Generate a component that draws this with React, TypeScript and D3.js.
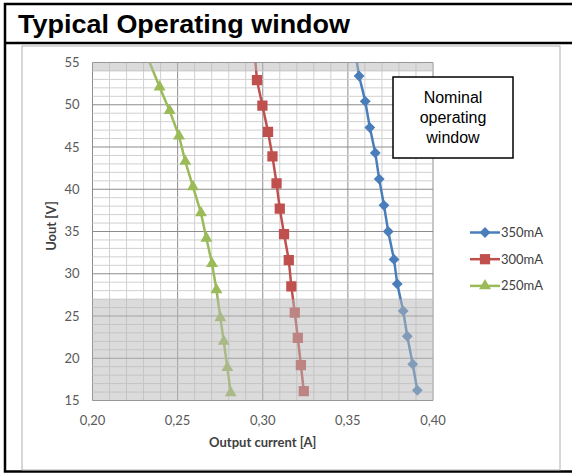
import * as d3 from 'd3'

// 350mA series
const v350 = [56, 53.4, 50.4, 47.3, 44.3, 41.2, 38.1, 35.0, 31.7, 28.8, 25.6, 22.6, 19.3, 16.2]
const i350 = [0.3545, 0.3566, 0.3602, 0.3629, 0.3661, 0.3684, 0.3712, 0.3737, 0.3771, 0.379, 0.3825, 0.3849, 0.3881, 0.3908]
// 300mA series
const v300 = [56, 52.9, 49.9, 46.8, 43.9, 40.7, 37.7, 34.7, 31.6, 28.5, 25.4, 22.4, 19.2, 16.1]
const i300 = [0.2953, 0.2966, 0.2998, 0.3031, 0.3057, 0.3081, 0.31, 0.3125, 0.3153, 0.3168, 0.3188, 0.3206, 0.3224, 0.3241]
// 250mA series
const v250 = [56, 52.1, 49.3, 46.3, 43.3, 40.3, 37.2, 34.2, 31.2, 28.1, 24.8, 22.0, 18.9, 15.9]
const i250 = [0.2316, 0.2394, 0.2453, 0.2508, 0.2545, 0.259, 0.2637, 0.2669, 0.2702, 0.2728, 0.2751, 0.2771, 0.2792, 0.2812]

const seriesNames = ['350mA', '300mA', '250mA']
const xTicks = [0.2, 0.25, 0.3, 0.35, 0.4]
const yTicks = [15, 20, 25, 30, 35, 40, 45, 50, 55]
// shaded (outside nominal) bands in volts
const bands: [number, number][] = [[15, 27], [54, 55]]
const noteLines = ['Nominal', 'operating', 'window']

type Pt = { v: number; i: number }

const series = [
  { name: seriesNames[0], color: '#4a7ebb', symbol: d3.symbolDiamond2, size: 75, data: v350.map((v, k) => ({ v, i: i350[k] })) },
  { name: seriesNames[1], color: '#c0504d', symbol: d3.symbolSquare, size: 105, data: v300.map((v, k) => ({ v, i: i300[k] })) },
  { name: seriesNames[2], color: '#9bbb59', symbol: d3.symbolTriangle, size: 62, data: v250.map((v, k) => ({ v, i: i250[k] })) },
]

export default function App() {
  const width = 572
  const height = 473
  const left = 92.5
  const right = 433
  const top = 62.5
  const bottom = 400.5

  const x = d3.scaleLinear([0.2, 0.4], [left, right])
  const y = d3.scaleLinear([15, 55], [bottom, top])

  const line = d3.line<Pt>().x((d) => x(d.i)).y((d) => y(d.v))

  const minorX = d3.range(0, 21).map((k) => 0.2 + k * 0.01)
  const minorY = d3.range(15, 56)

  const tickFont = 'Lato, "Open Sans", sans-serif'

  return (
    <svg width={width} height={height} style={{ position: 'absolute', left: 0, top: 0 }}>
      <rect width={width} height={height} fill="#fff" />
      {/* outer frame and title bar */}
      <rect x={5} y={4} width={580} height={467.5} fill="none" stroke="#000" strokeWidth={2.5} />
      <line x1={5} x2={580} y1={43} y2={43} stroke="#000" strokeWidth={2.5} />
      <text x={18} y={33} fontFamily='"Liberation Sans", Arial, sans-serif' fontWeight="bold" fontSize={26}
        textLength={332} lengthAdjust="spacingAndGlyphs">
        Typical Operating window
      </text>
      {/* chart area frame */}
      <rect x={22} y={46} width={538} height={424} fill="#fff" stroke="#b0b0b0" strokeWidth={1} />

      <defs>
        <clipPath id="plot">
          <rect x={left} y={top} width={right - left} height={bottom - top} />
        </clipPath>
      </defs>

      {/* grid */}
      <g>
        {minorX.map((t, k) => (
          <line key={'mx' + k} x1={x(t)} x2={x(t)} y1={top} y2={bottom}
            stroke={k % 5 === 0 ? '#8c8c8c' : '#d0d0d0'} strokeWidth={1} />
        ))}
        {minorY.map((t) => (
          <line key={'my' + t} x1={left} x2={right} y1={y(t)} y2={y(t)}
            stroke={t % 5 === 0 ? '#8c8c8c' : '#d0d0d0'} strokeWidth={1} />
        ))}
      </g>

      {/* series */}
      <g clipPath="url(#plot)">
        {series.map((s) => (
          <g key={s.name}>
            <path d={line(s.data) as string} fill="none" stroke={s.color} strokeWidth={2.5} />
            {s.data.map((d, k) => (
              <path key={k} transform={`translate(${x(d.i)},${y(d.v)})`}
                d={d3.symbol(s.symbol, s.size)() as string} fill={s.color} />
            ))}
          </g>
        ))}
      </g>

      {/* shaded bands over the lines */}
      {bands.map(([a, b], k) => (
        <rect key={k} x={left} width={right - left} y={y(b)} height={y(a) - y(b)}
          fill="#b8b8b8" fillOpacity={0.5} />
      ))}

      {/* axes labels */}
      <g fontFamily={tickFont} fontSize={13} fill="#595959">
        {yTicks.map((t) => (
          <text key={t} x={left - 13} y={y(t)} dy="0.35em" textAnchor="end">{t}</text>
        ))}
        {xTicks.map((t) => (
          <text key={t} x={x(t)} y={bottom + 24} textAnchor="middle">{d3.format('.2f')(t).replace('.', ',')}</text>
        ))}
      </g>
      <text x={(left + right) / 2} y={447} textAnchor="middle" fontFamily={tickFont}
        fontWeight="bold" fontSize={13} fill="#404040">Output current [A]</text>
      <text transform={`translate(56,${226}) rotate(-90)`} textAnchor="middle" fontFamily={tickFont}
        fontWeight="bold" fontSize={13} fill="#404040">Uout [V]</text>

      {/* note box */}
      <rect x={393} y={77} width={120} height={81} fill="#fff" stroke="#000" strokeWidth={1.5} />
      <g fontFamily='"Liberation Sans", Arial, sans-serif' fontSize={16} textAnchor="middle" fill="#000">
        {noteLines.map((t, k) => (
          <text key={t} x={453} y={103 + k * 20}>{t}</text>
        ))}
      </g>

      {/* legend */}
      <g fontFamily={tickFont} fontSize={13} fill="#404040">
        {series.map((s, k) => {
          const ly = 232.5 + k * 26.7
          return (
            <g key={s.name}>
              <line x1={470} x2={500} y1={ly} y2={ly} stroke={s.color} strokeWidth={2.5} />
              <path transform={`translate(485,${ly})`} d={d3.symbol(s.symbol, s.size)() as string} fill={s.color} />
              <text x={501} y={ly} dy="0.35em">{s.name}</text>
            </g>
          )
        })}
      </g>
    </svg>
  )
}
